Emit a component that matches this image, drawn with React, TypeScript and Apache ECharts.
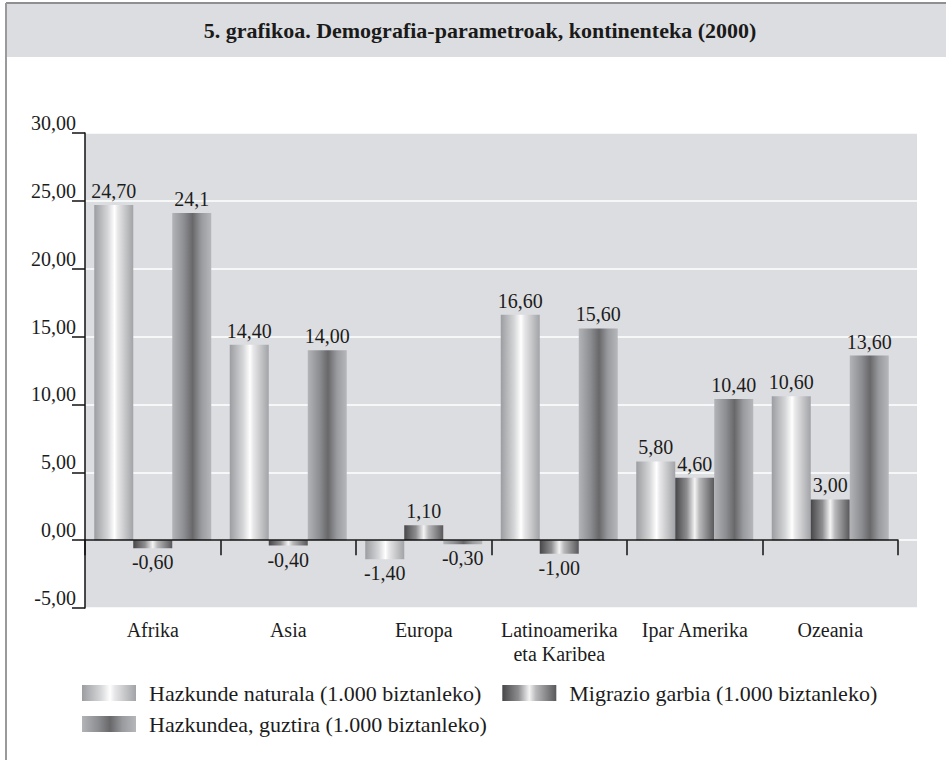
import React, { useEffect, useRef } from "react";
import * as echarts from "echarts";

const categories = ["Afrika", "Asia", "Europa", "Latinoamerika\neta Karibea", "Ipar Amerika", "Ozeania"];
const seriesNames = [
  "Hazkunde naturala (1.000 biztanleko)",
  "Migrazio garbia (1.000 biztanleko)",
  "Hazkundea, guztira (1.000 biztanleko)",
];
const naturala = [24.7, 14.4, -1.4, 16.6, 5.8, 10.6];
const migrazio = [-0.6, -0.4, 1.1, -1.0, 4.6, 3.0];
const guztira = [24.1, 14.0, -0.3, 15.6, 10.4, 13.6];
const naturalaLabels = ["24,70", "14,40", "-1,40", "16,60", "5,80", "10,60"];
const migrazioLabels = ["-0,60", "-0,40", "1,10", "-1,00", "4,60", "3,00"];
const guztiraLabels = ["24,1", "14,00", "-0,30", "15,60", "10,40", "13,60"];
const yMin = -5;
const yMax = 30;
const yStep = 5;
const titleText = "5. grafikoa. Demografia-parametroak, kontinenteka (2000)";

const FONT = "'Liberation Serif', 'Times New Roman', serif";
const TXT = "#1c1c1c";

const grad = (stops: [number, string][]) =>
  new echarts.graphic.LinearGradient(0, 0, 1, 0, stops.map(([offset, color]) => ({ offset, color })));

const colors = [
  grad([[0, "#9c9da0"], [0.35, "#d6d7d9"], [0.52, "#ffffff"], [0.6, "#e8e8ea"], [1, "#a2a3a6"]]),
  grad([[0, "#47474a"], [0.3, "#8e8e91"], [0.5, "#f4f4f5"], [0.62, "#b9b9bb"], [1, "#58585b"]]),
  grad([[0, "#b3b4b7"], [0.3, "#8d8e91"], [0.52, "#68686b"], [0.75, "#9a9b9e"], [1, "#b6b7ba"]]),
];

function makeSeries(name: string, values: number[], labels: string[], color: any) {
  return {
    name,
    type: "bar",
    xAxisIndex: 1,
    yAxisIndex: 1,
    barWidth: 39,
    barGap: "0%",
    itemStyle: { color },
    label: {
      show: true,
      fontFamily: FONT,
      fontSize: 20,
      color: TXT,
      distance: 4,
      formatter: (p: any) => labels[p.dataIndex],
    },
    data: values.map((v) => ({ value: v, label: { position: v < 0 ? "bottom" : "top" } })),
  };
}

export default function App() {
  const ref = useRef<HTMLDivElement>(null);
  useEffect(() => {
    document.body.style.margin = "0";
    const chart = echarts.init(ref.current!, null, { renderer: "svg" });
    chart.setOption({
      animation: false,
      backgroundColor: "#ffffff",
      textStyle: { fontFamily: FONT, color: TXT },
      graphic: [
        { type: "rect", shape: { x: 6, y: 3, width: 950, height: 54 }, style: { fill: "#dcdde0" }, z: 0 },
        { type: "line", shape: { x1: 6, y1: 3, x2: 946, y2: 3 }, style: { stroke: "#8f8f92", lineWidth: 2 } },
        { type: "line", shape: { x1: 6, y1: 3, x2: 6, y2: 760 }, style: { stroke: "#9a9a9d", lineWidth: 2 } },
        {
          type: "text",
          x: 480,
          y: 30,
          style: {
            text: titleText,
            font: `bold 22px ${FONT}`,
            fill: "#1a1a1a",
            textAlign: "center",
            textVerticalAlign: "middle",
          },
        },
      ],
      legend: [
        {
          left: 77,
          top: 677,
          itemWidth: 54,
          itemHeight: 16,
          itemGap: 21,
          icon: "rect",
          data: [seriesNames[0], seriesNames[1]],
          textStyle: { fontFamily: FONT, fontSize: 22, color: TXT, padding: [0, 0, 0, 8] },
        },
        {
          left: 77,
          top: 708,
          itemWidth: 54,
          itemHeight: 16,
          icon: "rect",
          data: [seriesNames[2]],
          textStyle: { fontFamily: FONT, fontSize: 22, color: TXT, padding: [0, 0, 0, 8] },
        },
      ],
      grid: [
        { left: 85, top: 133, width: 832, height: 475, show: true, backgroundColor: "#dcdde0", borderWidth: 0 },
        { left: 85, top: 133, width: 813, height: 475 },
      ],
      xAxis: [
        { gridIndex: 0, type: "value", show: false },
        {
          gridIndex: 1,
          type: "category",
          data: categories,
          position: "bottom",
          axisLine: { show: false, onZero: false },
          axisTick: { show: false },
          axisLabel: { interval: 0, fontFamily: FONT, fontSize: 20, color: TXT, margin: 10, lineHeight: 24 },
        },
        {
          gridIndex: 1,
          type: "category",
          data: categories,
          position: "bottom",
          z: 5,
          axisLine: { show: true, onZero: true, lineStyle: { color: "#111", width: 1.5 } },
          axisTick: { show: true, interval: 0, length: 15, lineStyle: { color: "#111", width: 1.5 } },
          axisLabel: { show: false },
        },
      ],
      yAxis: [
        {
          gridIndex: 0,
          type: "value",
          min: yMin,
          max: yMax,
          interval: yStep,
          axisLine: { show: false },
          axisTick: { show: false },
          axisLabel: { show: false },
          splitLine: { show: true, lineStyle: { color: "#ffffff", width: 1.5 } },
        },
        {
          gridIndex: 1,
          type: "value",
          min: yMin,
          max: yMax,
          interval: yStep,
          z: 5,
          axisLine: { show: true, lineStyle: { color: "#111", width: 1.5 } },
          axisTick: { show: true, length: 13, lineStyle: { color: "#111", width: 1.5 } },
          splitLine: { show: false },
          axisLabel: {
            fontFamily: FONT,
            fontSize: 20,
            color: TXT,
            margin: 9,
            verticalAlign: "bottom",
            formatter: (v: number) => v.toFixed(2).replace(".", ","),
          },
        },
      ],
      series: [
        makeSeries(seriesNames[0], naturala, naturalaLabels, colors[0]),
        makeSeries(seriesNames[1], migrazio, migrazioLabels, colors[1]),
        makeSeries(seriesNames[2], guztira, guztiraLabels, colors[2]),
      ],
    });
    return () => chart.dispose();
  }, []);
  return <div ref={ref} style={{ width: 946, height: 760 }} />;
}
